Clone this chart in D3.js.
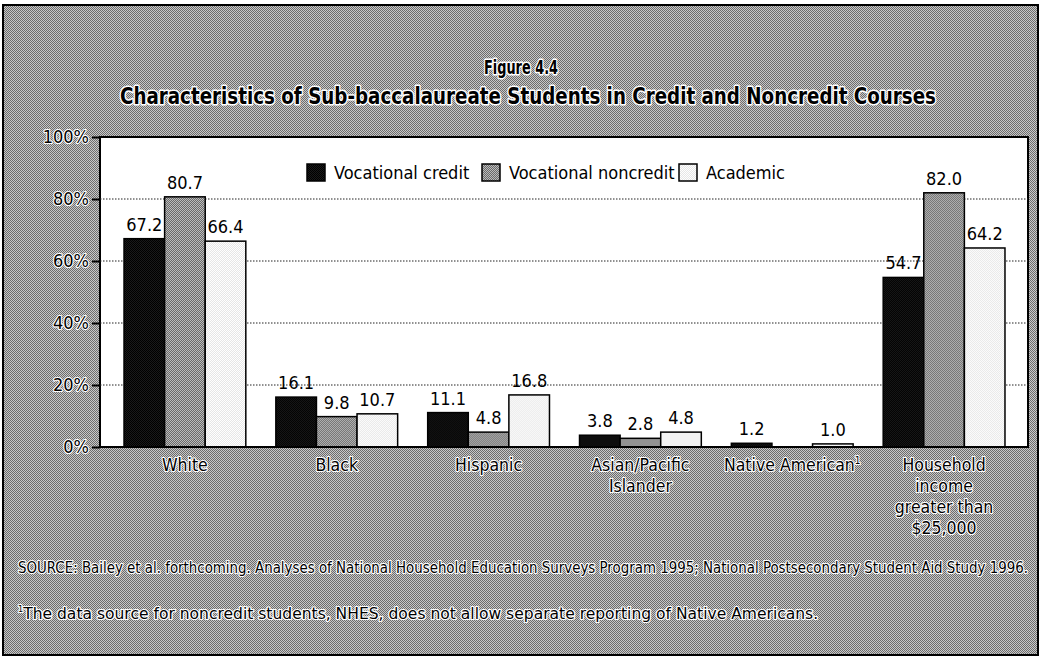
<!DOCTYPE html>
<html><head><meta charset="utf-8">
<script src="https://cdn.jsdelivr.net/npm/d3@7"></script>
<style>
html,body{margin:0;padding:0;background:#fff;}
svg text{font-family:"DejaVu Sans Condensed","DejaVu Sans",sans-serif;}
</style></head>
<body>
<svg id="chart" width="1042" height="658"></svg>
<script>
const categories = ["White","Black","Hispanic","Asian/Pacific Islander","Native American","Household income greater than $25,000"];
const categoryLines = [["White"],["Black"],["Hispanic"],["Asian/Pacific","Islander"],["Native American¹"],["Household","income","greater than","$25,000"]];
const seriesNames = ["Vocational credit","Vocational noncredit","Academic"];
const vocationalCredit = [67.2,16.1,11.1,3.8,1.2,54.7];
const vocationalNoncredit = [80.7,9.8,4.8,2.8,null,82.0];
const academic = [66.4,10.7,16.8,4.8,1.0,64.2];
const yTicks = [0,20,40,60,80,100];
const titleLine1 = "Figure 4.4";
const titleLine2 = "Characteristics of Sub-baccalaureate Students in Credit and Noncredit Courses";
const sourceNote = "SOURCE: Bailey et al. forthcoming. Analyses of National Household Education Surveys Program 1995; National Postsecondary Student Aid Study 1996.";
const footNote = "The data source for noncredit students, NHES, does not allow separate reporting of Native Americans.";

const series = [vocationalCredit, vocationalNoncredit, academic];
const fills = ["url(#pBlack)","url(#pGray)","url(#pWhite)"];

const svg = d3.select("#chart");
const defs = svg.append("defs");
function checker(id, a, b){
  const p = defs.append("pattern").attr("id",id).attr("width",2).attr("height",2).attr("patternUnits","userSpaceOnUse");
  p.append("rect").attr("width",2).attr("height",2).attr("fill",a);
  p.append("rect").attr("width",1).attr("height",1).attr("fill",b);
  p.append("rect").attr("x",1).attr("y",1).attr("width",1).attr("height",1).attr("fill",b);
}
checker("pBg","#c8c8c8","#6c6c6c");
checker("pGray","#bcbcbc","#6a6a6a");
checker("pBlack","#000","#1a1a1a");
checker("pWhite","#ffffff","#e6e6e6");

const halo = (t,w)=>t.attr("fill","#000").attr("stroke","#fff").attr("stroke-width",w||2.2).attr("stroke-linejoin","round").attr("paint-order","stroke");

// background
svg.append("rect").attr("x",0).attr("y",0).attr("width",1042).attr("height",658).attr("fill","#fff");
svg.append("rect").attr("x",3).attr("y",5).attr("width",1035).attr("height",650)
  .attr("fill","url(#pBg)").attr("stroke","#000").attr("stroke-width",2);

const plot = {left:100, right:1028, top:137, bottom:447};
const x0 = d3.scaleBand().domain(categories).range([109,1020]).paddingInner(0).paddingOuter(0);
const x1 = d3.scaleBand().domain(seriesNames).range([0,x0.bandwidth()]).paddingInner(0).paddingOuter(0.37);
const y = d3.scaleLinear().domain([0,100]).range([plot.bottom, plot.top]);

// plot area
svg.append("rect").attr("x",plot.left).attr("y",plot.top).attr("width",plot.right-plot.left).attr("height",plot.bottom-plot.top)
  .attr("fill","#fff").attr("stroke","#000").attr("stroke-width",2);

// gridlines
svg.append("g").selectAll("line").data(yTicks.filter(t=>t>0 && t<100)).join("line")
  .attr("x1",plot.left).attr("x2",plot.right).attr("y1",d=>y(d)).attr("y2",d=>y(d))
  .attr("stroke","#222").attr("stroke-width",1).attr("stroke-dasharray","1.5,1.5");

// y axis
const yAxis = d3.axisLeft(y).tickValues(yTicks).tickFormat(d=>d+"%").tickSize(8).tickPadding(3);
const yg = svg.append("g").attr("transform",`translate(${plot.left},0)`).call(yAxis);
yg.select(".domain").remove();
yg.selectAll(".tick line").attr("stroke","#000").attr("stroke-width",2);
halo(yg.selectAll(".tick text").attr("font-size",18).attr("font-family","'DejaVu Sans Condensed','DejaVu Sans',sans-serif").attr("dy","0.32em"));

// bars
const groups = svg.append("g").selectAll("g").data(categories).join("g")
  .attr("transform",d=>`translate(${x0(d)},0)`);
seriesNames.forEach((s,si)=>{
  groups.each(function(c,ci){
    const v = series[si][ci];
    if(v===null) return;
    const g = d3.select(this);
    g.append("rect").attr("x",x1(s)).attr("y",y(v)).attr("width",x1.bandwidth()).attr("height",plot.bottom-y(v))
      .attr("fill",fills[si]).attr("stroke","#000").attr("stroke-width",1.5);
    g.append("text").attr("x",x1(s)+x1.bandwidth()/2).attr("y",y(v)-8).attr("text-anchor","middle")
      .attr("font-size",18).attr("fill","#000").text(v.toFixed(1));
  });
});
svg.append("line").attr("x1",plot.left).attr("x2",plot.right).attr("y1",plot.bottom).attr("y2",plot.bottom).attr("stroke","#000").attr("stroke-width",2);

// category labels
const cl = svg.append("g").selectAll("text").data(categories).join("text")
  .attr("x",d=>x0(d)+x0.bandwidth()/2).attr("y",471).attr("text-anchor","middle").attr("font-size",17.5);
halo(cl);
cl.each(function(d,i){
  const t = d3.select(this);
  const cx = x0(d)+x0.bandwidth()/2;
  categoryLines[i].forEach((ln,li)=>{
    const yy = 471 + li*21;
    if(ln.endsWith("¹")){
      t.append("tspan").attr("x",cx).attr("y",yy).text(ln.slice(0,-1));
      t.append("tspan").attr("font-size",10).attr("dy","-0.7em").text("1");
    } else {
      t.append("tspan").attr("x",cx).attr("y",yy).text(ln);
    }
  });
});

// legend
const leg = svg.append("g").attr("transform","translate(307,164)");
const legX = [0,175,372];
seriesNames.forEach((s,i)=>{
  leg.append("rect").attr("x",legX[i]).attr("y",0).attr("width",18).attr("height",17).attr("fill",fills[i]).attr("stroke","#000").attr("stroke-width",1.5);
  leg.append("text").attr("x",legX[i]+27).attr("y",9).attr("dy","0.35em").attr("font-size",18).attr("fill","#000").text(s);
});

// titles
halo(svg.append("text").attr("x",521).attr("y",74).attr("text-anchor","middle").attr("font-weight","bold").attr("font-size",19).attr("textLength",74).attr("lengthAdjust","spacingAndGlyphs"),3).text(titleLine1);
halo(svg.append("text").attr("x",528).attr("y",104).attr("text-anchor","middle").attr("font-weight","bold").attr("font-size",23).attr("textLength",816).attr("lengthAdjust","spacingAndGlyphs"),3).text(titleLine2);

// notes
halo(svg.append("text").attr("x",18).attr("y",573).attr("font-size",15).attr("textLength",1010).attr("lengthAdjust","spacingAndGlyphs")).text(sourceNote);
const fn = halo(svg.append("text").attr("x",18).attr("y",616).attr("font-size",15));
fn.append("tspan").attr("font-size",9).attr("dy","-0.5em").text("1");
fn.append("tspan").attr("dy","0.5em").attr("textLength",795).attr("lengthAdjust","spacingAndGlyphs").text(footNote);
</script>
</body></html>
